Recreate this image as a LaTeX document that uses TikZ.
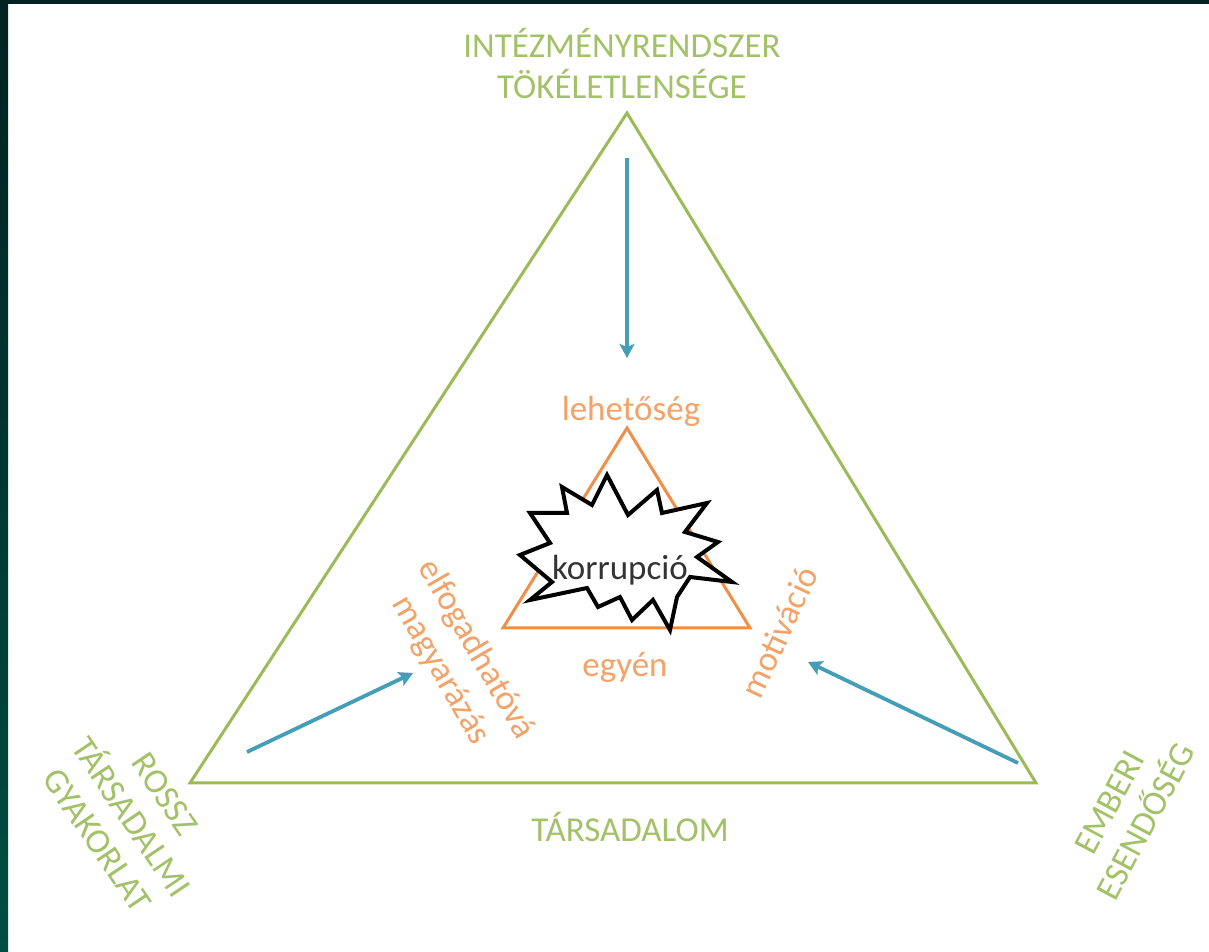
\documentclass[tikz,border=0pt]{standalone}
\usepackage{fontspec}
\setmainfont{Carlito}
\usetikzlibrary{arrows.meta}
\definecolor{olive}{RGB}{155,187,89}
\definecolor{olivetext}{RGB}{163,194,104}
\definecolor{orangeline}{RGB}{241,142,72}
\definecolor{orangetext}{RGB}{243,162,104}
\definecolor{aqua}{RGB}{68,158,184}
\definecolor{teal top}{RGB}{0,34,33}
\definecolor{teal bottom}{RGB}{0,78,65}
\begin{document}
\begin{tikzpicture}[x=0.5pt,y=0.5pt,
    label font/.style={font=\fontsize{17.5}{20.5}\selectfont},
    greentext/.style={label font,text=olivetext,align=center},
    orangetext/.style={label font,text=orangetext,align=center},
    outer/.style={draw=olive,line width=1.5pt,line join=miter},
    inner/.style={draw=orangeline,line width=1.5pt,line join=miter},
    push/.style={draw=aqua,line width=1.9pt,-{Stealth[length=7pt,width=7.5pt,inset=1.5pt]}}]
    \useasboundingbox (0,0) rectangle (1209,952);
    % background and frame
    \fill[white] (0,0) rectangle (1209,952);
    \shade[bottom color=teal bottom,top color=teal top] (0,0) rectangle (8,952);
    \fill[teal top] (0,948) rectangle (1209,952);
    % big triangle
    \coordinate (top) at (627,839);
    \coordinate (left) at (190,169);
    \coordinate (right) at (1036,169);
    \draw[outer] (top) -- (left) -- (right) -- cycle;
    % small triangle
    \coordinate (itop) at (627,524);
    \coordinate (ileft) at (503,324);
    \coordinate (iright) at (750,324);
    \draw[inner] (itop) -- (ileft) -- (iright) -- cycle;
    % explosion
    \draw[black,line width=2pt,fill=white,line join=miter]
      (607,477) -- (628,437) -- (657,462) -- (662,439) -- (707,449)
      -- (685,420) -- (718,410) -- (697,395) -- (732,370) -- (690,375)
      -- (677,355) -- (670,322) -- (653,352) -- (632,332) -- (620,355)
      -- (598,345) -- (587,364) -- (530,352) -- (552,370) -- (520,397)
      -- (550,409) -- (530,439) -- (567,439) -- (562,465) -- (592,447)
      -- cycle;
    \node[label font,text=black!80] (korr) at (620,382) {korrupció};
    % corner labels
    \node[greentext] (intezmeny) at (622,888) {INTÉZMÉNYRENDSZER\\TÖKÉLETLENSÉGE};
    \node[greentext] (tars) at (630,125) {TÁRSADALOM};
    \node[greentext,rotate=-56] (rossz) at (131,135) {ROSSZ\\TÁRSADALMI\\GYAKORLAT};
    \node[greentext,rotate=62] (emberi) at (1128,140) {EMBERI\\ESENDŐSÉG};
    % inner labels
    \node[orangetext] (lehet) at (631,541) {lehetőség};
    \node[orangetext] (egyen) at (625,284) {egyén};
    \node[orangetext,rotate=-60] (elfog) at (458,292) {elfogadhatóvá\\magyarázás};
    \node[orangetext,rotate=65] (motiv) at (779,320) {motiváció};
    % arrows
    \coordinate (a1) at (627,794);
    \coordinate (b1) at (627,594);
    \coordinate (a2) at (247,200);
    \coordinate (b2) at (413,279);
    \coordinate (a3) at (1018,189);
    \coordinate (b3) at (808,290);
    \draw[push] (a1) -- (b1);
    \draw[push] (a2) -- (b2);
    \draw[push] (a3) -- (b3);
\end{tikzpicture}
\end{document}
